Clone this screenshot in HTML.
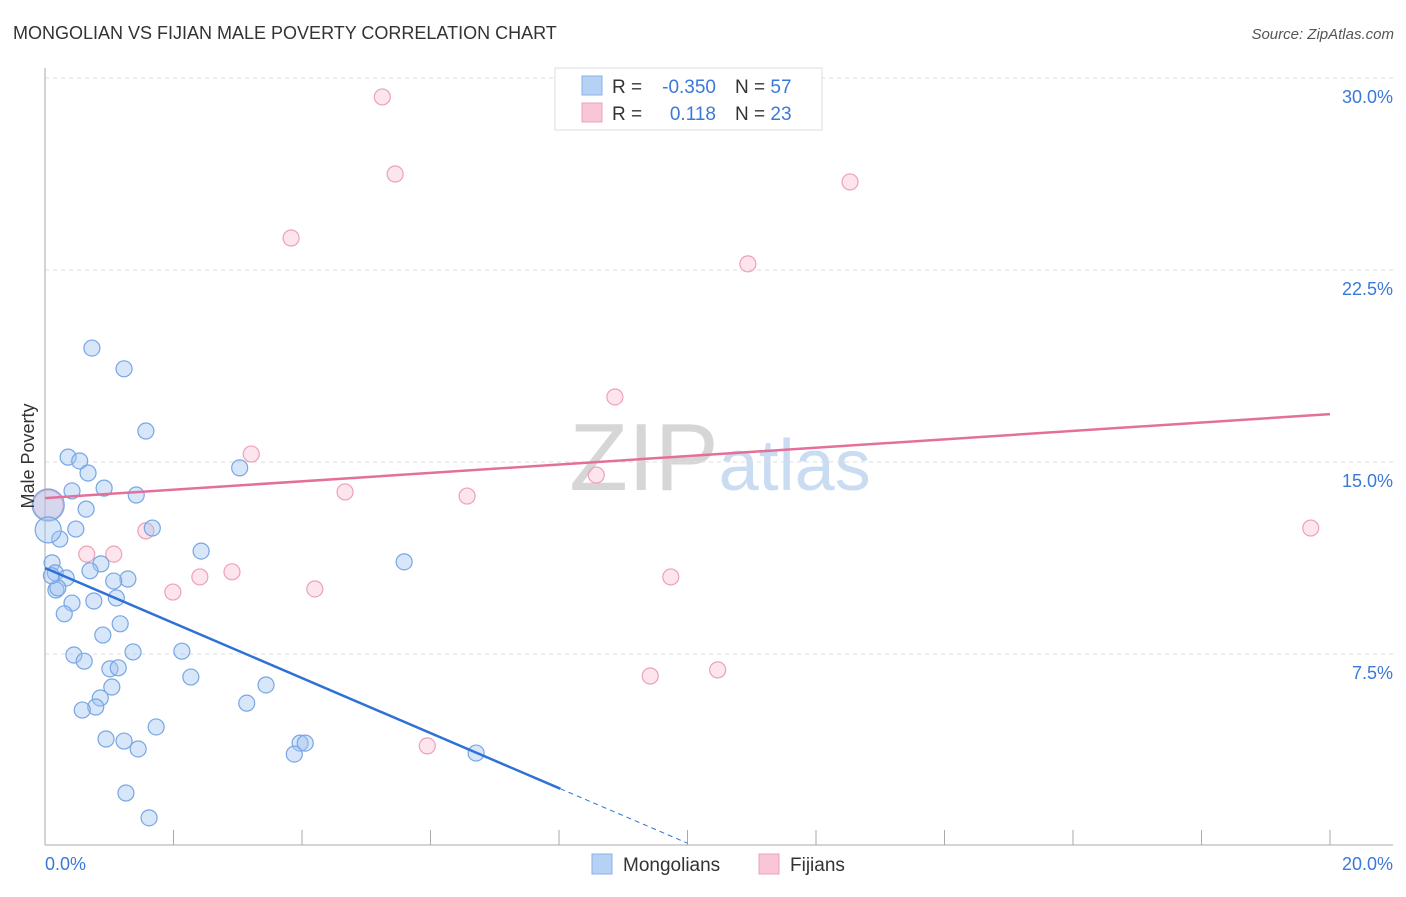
<!DOCTYPE html>
<html><head><meta charset="utf-8"><style>
body{margin:0;background:#fff;font-family:"Liberation Sans",sans-serif}
svg text{font-family:"Liberation Sans",sans-serif}
</style></head><body>
<svg id="c" width="1406" height="892" xmlns="http://www.w3.org/2000/svg">
<text x="13" y="39" font-size="18" fill="#333">MONGOLIAN VS FIJIAN MALE POVERTY CORRELATION CHART</text>
<text x="1394" y="39" font-size="15" fill="#555" text-anchor="end" font-style="italic">Source: ZipAtlas.com</text>
<text x="720" y="490" font-size="96" text-anchor="middle" fill="#ddd" font-family="Liberation Serif"><tspan fill="#d6d6d6">ZIP</tspan><tspan fill="#c9dcf2" font-family="Liberation Sans" font-size="72">atlas</tspan></text>
<g id="grid"></g>
<g id="axes"></g>
<g id="marks"></g>
<text transform="translate(34,456) rotate(-90)" font-size="18" fill="#333" text-anchor="middle">Male Poverty</text>
<g>
<rect x="555" y="68" width="267" height="62" fill="#fff" stroke="#ddd"/>
<rect x="582" y="76" width="20" height="19" fill="#b7d1f4" stroke="#88b0e8"/>
<text x="612" y="93" font-size="19" fill="#333">R = </text>
<text x="716" y="93" font-size="19" fill="#3b78d8" text-anchor="end">-0.350</text>
<text x="735" y="93" font-size="19" fill="#333">N = <tspan fill="#3b78d8">57</tspan></text>
<rect x="582" y="103" width="20" height="19" fill="#f8c6d4" stroke="#eea0b8"/>
<text x="612" y="120" font-size="19" fill="#333">R = </text>
<text x="716" y="120" font-size="19" fill="#3b78d8" text-anchor="end">0.118</text>
<text x="735" y="120" font-size="19" fill="#333">N = <tspan fill="#3b78d8">23</tspan></text>
</g>
<g>
<rect x="592" y="854" width="20" height="20" fill="#b7d1f4" stroke="#88b0e8"/>
<text x="623" y="871" font-size="19" fill="#333">Mongolians</text>
<rect x="759" y="854" width="20" height="20" fill="#f8c6d4" stroke="#eea0b8"/>
<text x="790" y="871" font-size="19" fill="#333">Fijians</text>
</g>
</svg>
<script>
const yTicks=[7.5,15,22.5,30];
const yTickLabels=["7.5%","15.0%","22.5%","30.0%"];
const xTickLabels=["0.0%","20.0%"];
const blueX=[0.73,1.23,1.57,0.36,0.54,0.67,3.03,0.42,0.92,1.42,0.64,1.67,0.48,0.23,2.43,0.11,0.87,5.59,0.16,0.70,0.33,1.29,1.07,0.17,0.42,0.76,1.11,0.30,1.17,0.90,0.45,0.61,1.37,2.13,1.01,1.14,2.27,1.04,3.44,0.86,0.79,0.58,3.14,1.73,0.95,1.23,1.45,3.97,4.05,3.88,6.71,1.26,1.62,0.05,0.20,0.10,0.05];
const blueY=[19.45,18.64,16.21,15.19,15.04,14.57,14.77,13.87,13.98,13.71,13.16,12.42,12.38,11.99,11.52,11.06,11.02,11.10,10.67,10.75,10.47,10.43,10.35,10.00,9.49,9.57,9.69,9.07,8.68,8.24,7.46,7.22,7.58,7.61,6.92,6.96,6.60,6.21,6.29,5.78,5.43,5.31,5.58,4.65,4.18,4.10,3.79,4.02,4.02,3.59,3.63,2.07,1.10,13.32,10.08,10.56,12.35];
const blueR=[8,8,8,8,8,8,8,8,8,8,8,8,8,8,8,8,8,8,8,8,8,8,8,8,8,8,8,8,8,8,8,8,8,8,8,8,8,8,8,8,8,8,8,8,8,8,8,8,8,8,8,8,8,16,8,8,13];
const pinkX=[5.25,5.45,12.53,3.83,10.94,8.87,3.21,8.58,4.67,6.57,19.70,1.57,0.65,1.07,2.91,2.41,1.99,4.20,9.74,9.42,10.47,5.95,0.05];
const pinkY=[29.26,26.25,25.94,23.75,22.74,17.54,15.31,14.49,13.83,13.67,12.42,12.31,11.40,11.40,10.71,10.51,9.92,10.04,10.51,6.64,6.88,3.91,13.32];
const pinkR=[8,8,8,8,8,8,8,8,8,8,8,8,8,8,8,8,8,8,8,8,8,8,15];
const blueTrend=[10.86,-1.075];
const pinkTrend=[13.59,0.164];
const NS="http://www.w3.org/2000/svg";
const X=v=>45+v*64.25, Y=v=>846-v*25.6;
function mk(t,a,p){const e=document.createElementNS(NS,t);for(const k in a)e.setAttribute(k,a[k]);p.appendChild(e);return e;}
const g=document.getElementById('grid'),ax=document.getElementById('axes'),m=document.getElementById('marks');
yTicks.forEach((t,i)=>{
 const l=mk('line',{x1:45,x2:1393,y1:Y(t),y2:Y(t),stroke:'#ddd','stroke-dasharray':'4,4'},g);
 
 
 const tx=mk('text',{x:1393,y:Y(t)+25,'font-size':18,fill:'#3b78d8','text-anchor':'end'},ax);tx.textContent=yTickLabels[i];
 
 
});
const yl=mk('line',{x1:45,x2:45,y1:68,y2:845,stroke:'#aaa'},ax);


const xl=mk('line',{x1:45,x2:1393,y1:845,y2:845,stroke:'#aaa'},ax);


for(let i=0;i<=10;i++){const t=mk('line',{x1:X(i*2),x2:X(i*2),y1:830,y2:845,stroke:'#aaa'},ax);
 
 }
[[0,'start',45],[20,'end',1393]].forEach((d,i)=>{const t=mk('text',{x:d[2],y:870,'font-size':18,fill:'#3b78d8','text-anchor':d[1]},ax);t.textContent=xTickLabels[i];
 
 });
pinkX.forEach((x,i)=>{const c=mk('circle',{cx:X(x),cy:Y(pinkY[i]),r:pinkR[i],fill:'rgba(245,170,195,0.3)',stroke:'#eea0b8','stroke-width':1.2},m);
 
 });
blueX.forEach((x,i)=>{const c=mk('circle',{cx:X(x),cy:Y(blueY[i]),r:blueR[i],fill:'rgba(160,195,240,0.42)',stroke:'#77a6e4','stroke-width':1.2},m);
 
 });
const bt=x=>blueTrend[0]+blueTrend[1]*x, pt=x=>pinkTrend[0]+pinkTrend[1]*x;
const b1=mk('line',{x1:X(0),y1:Y(bt(0)),x2:X(8.02),y2:Y(bt(8.02)),stroke:'#2f72d6','stroke-width':2.5},m);


const b2=mk('line',{x1:X(8.02),y1:Y(bt(8.02)),x2:X(10),y2:Y(bt(10)),stroke:'#2f72d6','stroke-width':1,'stroke-dasharray':'5,4'},m);


const p1=mk('line',{x1:X(0),y1:Y(pt(0)),x2:X(20),y2:Y(pt(20)),stroke:'#e4709a','stroke-width':2.5},m);


</script>
</body></html>
